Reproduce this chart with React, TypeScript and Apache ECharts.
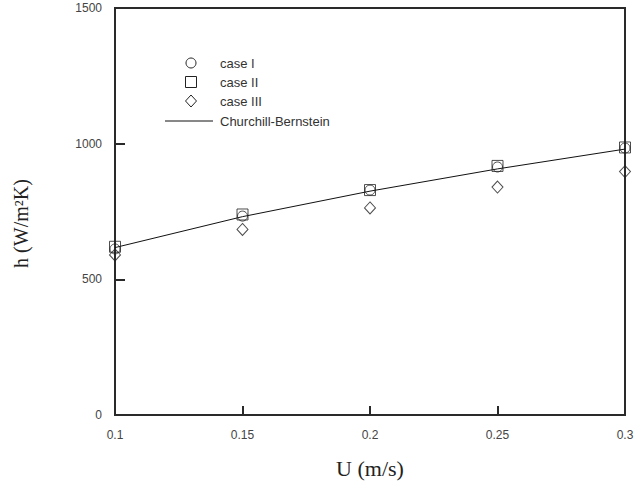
import React, { useEffect, useRef } from "react";
import * as echarts from "echarts";

// Flow velocity (m/s) at which h was evaluated
const velocities = [0.1, 0.15, 0.2, 0.25, 0.3];

// Heat transfer coefficient h (W/m²K) for each case
const caseI = [612, 733, 829, 914, 984];
const caseII = [620, 739, 829, 918, 986];
const caseIII = [590, 684, 763, 840, 897];

// Churchill-Bernstein correlation
const churchillBernstein = [617, 731, 825, 907, 980];

const legendLabels = ["case I", "case II", "case III", "Churchill-Bernstein"];

const xTicks = { min: 0.1, max: 0.3, interval: 0.05 };
const yTicks = { min: 0, max: 1500, interval: 500 };

const pairs = (ys: number[]) => velocities.map((x, i) => [x, ys[i]]);

const ink = "#222";
const hollow = {
  color: "rgba(255,255,255,0)",
  borderColor: ink,
  borderWidth: 1,
};
const sansFont = "Liberation Sans, Arial, sans-serif";
const serifFont = "Liberation Serif, Times New Roman, serif";

// Hand-placed key in the upper-left corner of the plot
function buildKey() {
  const symX = 191;
  const textX = 220;
  const rows = [63, 82, 101, 121];
  const stroke = { fill: "none", stroke: ink, lineWidth: 1 };
  const texts = legendLabels.map((label, i) => ({
    type: "text",
    x: textX,
    y: rows[i],
    style: {
      text: label,
      fontFamily: sansFont,
      fontSize: 13,
      fill: "#333",
      verticalAlign: "middle",
      align: "left",
    },
  }));
  return [
    { type: "circle", shape: { cx: symX, cy: rows[0], r: 5 }, style: stroke },
    {
      type: "rect",
      shape: { x: symX - 5.5, y: rows[1] - 5.5, width: 11, height: 11 },
      style: stroke,
    },
    {
      type: "polygon",
      shape: {
        points: [
          [symX, rows[2] - 6],
          [symX + 5.5, rows[2]],
          [symX, rows[2] + 6],
          [symX - 5.5, rows[2]],
        ],
      },
      style: stroke,
    },
    {
      type: "line",
      shape: { x1: 165, y1: rows[3], x2: 213, y2: rows[3] },
      style: { stroke: "#111", lineWidth: 1 },
    },
    ...texts,
  ];
}

export default function App() {
  const ref = useRef<HTMLDivElement>(null);

  useEffect(() => {
    if (!ref.current) return;
    const chart = echarts.init(ref.current, undefined, { renderer: "svg" });
    const axisColor = "#2a2a2a";
    chart.setOption({
      animation: false,
      backgroundColor: "#ffffff",
      grid: {
        left: 115,
        right: 10,
        top: 8,
        bottom: 66,
        show: true,
        borderColor: axisColor,
        borderWidth: 2,
        containLabel: false,
        outerBoundsMode: "none",
      },
      graphic: buildKey(),
      xAxis: {
        type: "value",
        min: xTicks.min,
        max: xTicks.max,
        interval: xTicks.interval,
        name: "U (m/s)",
        nameLocation: "middle",
        nameGap: 42,
        nameTextStyle: {
          fontFamily: serifFont,
          fontSize: 22,
          color: ink,
        },
        splitLine: { show: false },
        axisLine: { show: true, lineStyle: { color: axisColor, width: 2 } },
        axisTick: {
          show: true,
          inside: true,
          length: 9,
          lineStyle: { color: axisColor, width: 2 },
        },
        axisLabel: {
          margin: 14,
          fontFamily: sansFont,
          fontSize: 12,
          color: "#444",
          formatter: (v: number) => String(+v.toFixed(2)),
        },
      },
      yAxis: {
        type: "value",
        min: yTicks.min,
        max: yTicks.max,
        interval: yTicks.interval,
        name: "h (W/m²K)",
        nameLocation: "middle",
        nameGap: 84,
        nameTextStyle: {
          fontFamily: serifFont,
          fontSize: 20,
          color: ink,
          padding: [0, 24, 0, 0],
        },
        splitLine: { show: false },
        axisLine: { show: true, lineStyle: { color: axisColor, width: 2 } },
        axisTick: {
          show: true,
          inside: true,
          length: 10,
          lineStyle: { color: axisColor, width: 2 },
        },
        axisLabel: {
          margin: 13,
          fontFamily: sansFont,
          fontSize: 12,
          color: "#444",
          formatter: (v: number) => String(v),
        },
      },
      series: [
        {
          name: "Churchill-Bernstein",
          type: "line",
          data: pairs(churchillBernstein),
          symbol: "none",
          lineStyle: { color: "#111", width: 1 },
          itemStyle: { color: "#111" },
          z: 1,
        },
        {
          name: "case I",
          type: "scatter",
          data: pairs(caseI),
          symbol: "circle",
          symbolSize: 10,
          itemStyle: hollow,
          z: 3,
        },
        {
          name: "case II",
          type: "scatter",
          data: pairs(caseII),
          symbol: "rect",
          symbolSize: 11,
          itemStyle: hollow,
          z: 3,
        },
        {
          name: "case III",
          type: "scatter",
          data: pairs(caseIII),
          symbol: "diamond",
          symbolSize: [11, 12],
          itemStyle: hollow,
          z: 3,
        },
      ],
    });
    return () => chart.dispose();
  }, []);

  return (
    <div
      ref={ref}
      style={{ position: "fixed", left: 0, top: 0, width: 635, height: 481 }}
    />
  );
}
